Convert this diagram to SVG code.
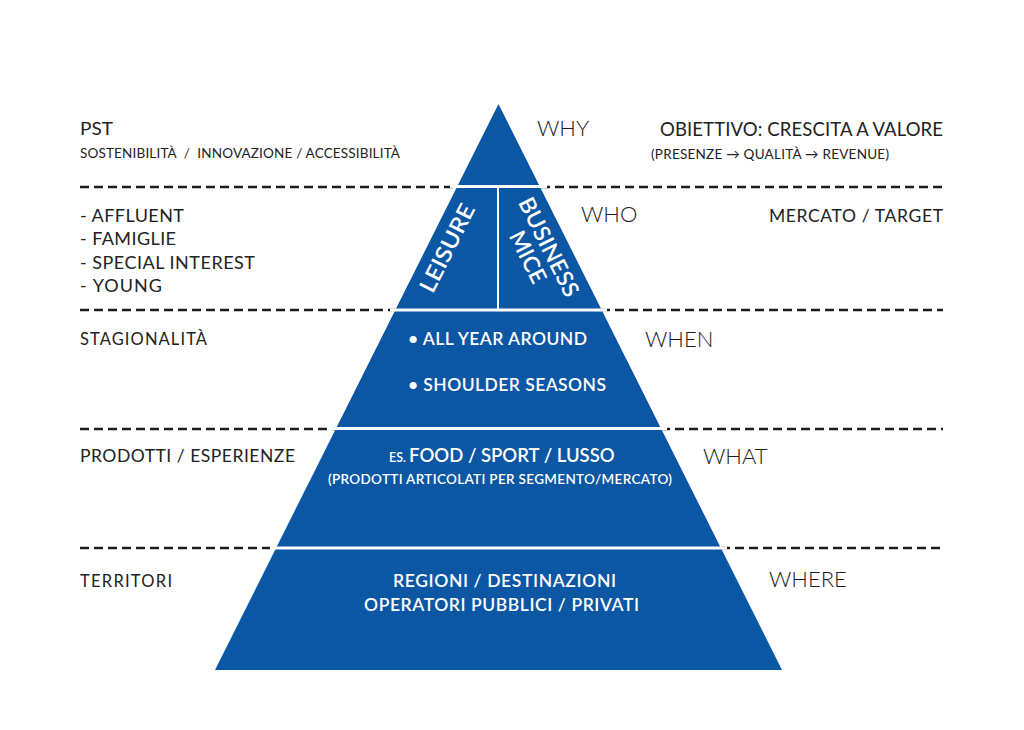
<svg xmlns="http://www.w3.org/2000/svg" width="1024" height="730" viewBox="0 0 1024 730">
<style>
.lbl{font-family:Lato,"Noto Sans","Liberation Sans",sans-serif;fill:#222222}
.q{font-family:Lato,"Noto Sans","Liberation Sans",sans-serif;font-weight:300;font-size:22px;fill:#1c1c1c}
.w{font-family:Lato,"Noto Sans","Liberation Sans",sans-serif;fill:#ffffff;font-weight:600}
.dash{stroke:#1c1c1c;stroke-width:2.5;stroke-dasharray:9 5;fill:none}
.sep{stroke:#ffffff;stroke-width:3}
</style>
<rect width="1024" height="730" fill="#ffffff"/>
<g id="connectors">
<line class="dash" x1="80" y1="187" x2="457" y2="187"/>
<line class="dash" x1="541" y1="187" x2="943" y2="187"/>
<line class="dash" x1="80" y1="310" x2="396" y2="310"/>
<line class="dash" x1="601" y1="310" x2="943" y2="310"/>
<line class="dash" x1="80" y1="429" x2="336" y2="429"/>
<line class="dash" x1="661" y1="429" x2="943" y2="429"/>
<line class="dash" x1="80" y1="548" x2="276" y2="548"/>
<line class="dash" x1="721" y1="548" x2="943" y2="548"/>
</g>
<g id="pyramid">
<polygon points="498.5,104 215,670 782,670" fill="#0b57a4"/>
<line class="sep" x1="450" y1="186.5" x2="547" y2="186.5"/>
<line class="sep" x1="390" y1="310" x2="607" y2="310"/>
<line class="sep" x1="330" y1="428.5" x2="667" y2="428.5"/>
<line class="sep" x1="270" y1="548" x2="727" y2="548"/>
<line stroke="#ffffff" stroke-width="2" x1="498" y1="187" x2="498" y2="309"/>
</g>
<g id="why">
<text class="lbl" x="80" y="135" font-size="17" textLength="33" lengthAdjust="spacingAndGlyphs">PST</text>
<text class="lbl" x="80" y="158" font-size="13.5" xml:space="preserve" textLength="320" lengthAdjust="spacing">SOSTENIBILITÀ  /  INNOVAZIONE / ACCESSIBILITÀ</text>
<text class="q" x="537" y="136">WHY</text>
<text class="lbl" x="660" y="136" font-size="18.5" textLength="283" lengthAdjust="spacing">OBIETTIVO: CRESCITA A VALORE</text>
<text class="lbl" x="651" y="159" font-size="13.5" textLength="238" lengthAdjust="spacing">(PRESENZE → QUALITÀ → REVENUE)</text>
</g>
<g id="who">
<text class="lbl" x="80" y="222" font-size="18" textLength="104" lengthAdjust="spacing">- AFFLUENT</text>
<text class="lbl" x="80" y="245" font-size="18" textLength="96" lengthAdjust="spacing">- FAMIGLIE</text>
<text class="lbl" x="80" y="269" font-size="18" textLength="175" lengthAdjust="spacing">- SPECIAL INTEREST</text>
<text class="lbl" x="80" y="292" font-size="18" textLength="82" lengthAdjust="spacing">- YOUNG</text>
<text class="q" x="581" y="222">WHO</text>
<text class="lbl" x="769" y="222" font-size="17.5" textLength="174" lengthAdjust="spacing">MERCATO / TARGET</text>
<text class="w" font-size="22.5" text-anchor="middle" transform="translate(447,248) rotate(-63.4)" x="0" y="8" textLength="96" lengthAdjust="spacingAndGlyphs">LEISURE</text>
<text class="w" font-size="22.5" text-anchor="middle" transform="translate(549,247) rotate(63.4)" x="0" y="8" textLength="108" lengthAdjust="spacingAndGlyphs">BUSINESS</text>
<text class="w" font-size="22.5" text-anchor="middle" transform="translate(528,257) rotate(63.4)" x="0" y="8">MICE</text>
</g>
<g id="when">
<text class="lbl" x="80" y="345" font-size="16.5" textLength="127" lengthAdjust="spacing">STAGIONALITÀ</text>
<text class="q" x="645" y="347">WHEN</text>
<text class="w" x="408" y="345" font-size="17.5" textLength="179" lengthAdjust="spacing">• ALL YEAR AROUND</text>
<text class="w" x="408" y="391" font-size="17.5" textLength="198" lengthAdjust="spacing">• SHOULDER SEASONS</text>
</g>
<g id="what">
<text class="lbl" x="80" y="462" font-size="17.5" textLength="215" lengthAdjust="spacing">PRODOTTI / ESPERIENZE</text>
<text class="q" x="703" y="464">WHAT</text>
<text class="w" x="389" y="462" font-size="18.5" font-weight="500"><tspan font-size="12.5">ES. </tspan>FOOD / SPORT / LUSSO</text>
<text class="w" x="328" y="484" font-size="13.5" font-weight="500" textLength="344" lengthAdjust="spacing">(PRODOTTI ARTICOLATI PER SEGMENTO/MERCATO)</text>
</g>
<g id="where">
<text class="lbl" x="80" y="587" font-size="16.5" textLength="92" lengthAdjust="spacing">TERRITORI</text>
<text class="q" x="769" y="587">WHERE</text>
<text class="w" x="393" y="587" font-size="17.5" font-weight="500" textLength="223" lengthAdjust="spacing">REGIONI / DESTINAZIONI</text>
<text class="w" x="364" y="611" font-size="17.5" font-weight="500" textLength="275" lengthAdjust="spacing">OPERATORI PUBBLICI / PRIVATI</text>
</g>
</svg>
